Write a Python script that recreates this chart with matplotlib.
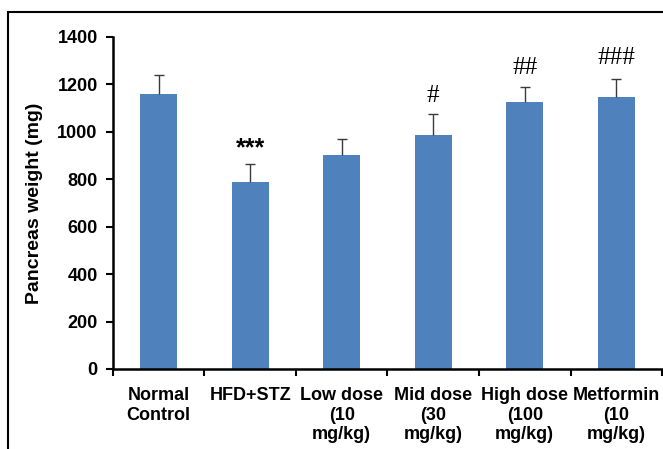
import matplotlib
matplotlib.use("Agg")
import matplotlib.pyplot as plt
import matplotlib.patches as mpatch
import numpy as np

groups = ["Normal\nControl", "HFD+STZ", "Low dose\n(10\nmg/kg)", "Mid dose\n(30\nmg/kg)",
          "High dose\n(100\nmg/kg)", "Metformin\n(10\nmg/kg)"]
weight = [1158, 788, 901, 986, 1123, 1146]
sd = [79, 74, 66, 87, 67, 75]
marks = ["", "***", "", "#", "##", "###"]
mark_y = [0, 928, 0, 1152, 1268, 1312]

plt.rcParams['font.family'] = ['Liberation Sans', 'DejaVu Sans']

fig = plt.figure(figsize=(6.63, 4.49), dpi=100)
ax = fig.add_axes([0.1704, 0.1782, 0.8281, 0.7401])

x = np.arange(len(groups))
ax.bar(x, weight, width=0.4, color='#4F81BD', zorder=2)
# upper error bars only: stem plus a cap at the top
ax.vlines(x, weight, np.add(weight, sd), color='#3a3a3a', linewidth=1, zorder=3)
ax.plot(x, np.add(weight, sd), linestyle='none', marker='_', markersize=7,
        markeredgewidth=1, color='#3a3a3a', zorder=3)

for xi, m, my in zip(x, marks, mark_y):
    if not m:
        continue
    if m.startswith('*'):
        ax.text(xi, my, m, ha='center', va='center', fontsize=18, fontweight='bold')
    else:
        ax.text(xi, my, m, ha='center', va='center', fontsize=18,
                family='Liberation Serif')

ax.set_xlim(-0.5, len(groups) - 0.5)
ax.set_ylim(0, 1400)
ax.set_yticks(range(0, 1401, 200))
ax.set_yticklabels([str(v) for v in range(0, 1401, 200)], fontsize=13, fontweight='bold')
ax.set_ylabel("Pancreas weight (mg)", fontsize=14, fontweight='bold', labelpad=10)

ax.set_xticks(x)
ax.set_xticklabels(groups, fontsize=13, fontweight='bold', va='top')
ax.tick_params(axis='x', which='major', length=0, pad=13)
ax.set_xticks(np.arange(-0.5, len(groups)), minor=True)
ax.tick_params(axis='x', which='minor', length=5, width=1.5, direction='out')
ax.tick_params(axis='y', length=5, width=1.5, direction='out', pad=6)

for s in ['top', 'right']:
    ax.spines[s].set_visible(False)
for s in ['left', 'bottom']:
    ax.spines[s].set_linewidth(1.8)

# outer frame of the original figure, cut off at right and bottom
frame = mpatch.Rectangle((8 / 663, -0.1), 1.2, 1.1 - 12 / 449, transform=fig.transFigure,
                         fill=False, edgecolor='black', linewidth=1.5)
fig.patches.append(frame)

fig.savefig("out.png", dpi=100)
